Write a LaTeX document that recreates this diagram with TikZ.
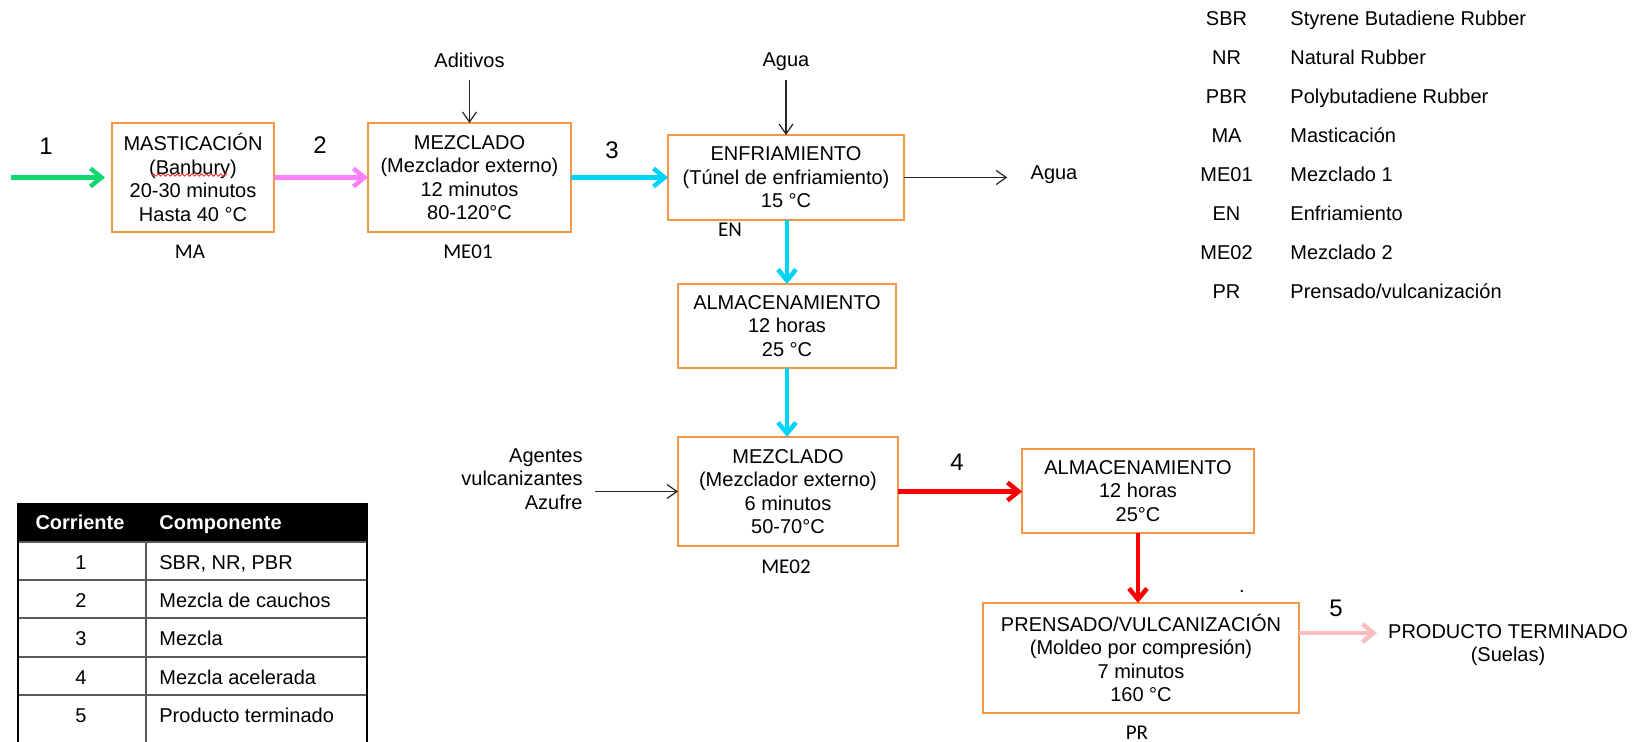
\documentclass[tikz,border=0pt]{standalone}
\usepackage{fontspec}
\setmainfont{Liberation Sans}
\newfontfamily\labfont{Carlito}
\usetikzlibrary{arrows.meta,decorations.pathmorphing}
\definecolor{boxorange}{RGB}{247,150,70}
\definecolor{cgreen}{RGB}{20,214,110}
\definecolor{cpink}{RGB}{255,128,255}
\definecolor{ccyan}{RGB}{0,212,250}
\definecolor{cred}{RGB}{250,0,0}
\definecolor{clpink}{RGB}{250,190,190}
\definecolor{tabline}{RGB}{90,90,90}
\begin{document}
\begin{tikzpicture}[x=0.5pt,y=-0.5pt,
  pbox/.style={draw=boxorange, line width=1pt, inner sep=0pt, outer sep=0pt, align=center,
    font=\fontsize{10}{11.7}\selectfont},
  txt/.style={inner sep=0pt, font=\fontsize{10}{11.7}\selectfont},
  num/.style={inner sep=0pt, anchor=base, font=\fontsize{12}{14}\selectfont},
  lab/.style={inner sep=0pt, anchor=base, font=\labfont\fontsize{10.5}{12}\selectfont},
  flow/.style={line width=2.25pt, -{Straight Barb[length=5.5pt,width=9pt]}},
  blk/.style={line width=0.6pt, draw=black!85, -{Straight Barb[length=5pt,width=7pt]}},
  spell/.style={draw=red!85, line width=0.4pt, decorate,
    decoration={snake, amplitude=0.6pt, segment length=2.4pt}},
  tabtxt/.style={inner sep=0pt, font=\fontsize{10}{12}\selectfont},
]
\useasboundingbox (0,0) rectangle (1637,742);

% process boxes
\node[pbox, minimum width=81pt, minimum height=54.5pt] (MA) at (193,177.5)
  {MASTICACIÓN\\(Banbury)\\20-30 minutos\\Hasta 40 °C};
\node[pbox, minimum width=101.5pt, minimum height=54.5pt] (ME1) at (469.5,177.5)
  {MEZCLADO\\(Mezclador externo)\\12 minutos\\80-120°C};
\node[pbox, minimum width=118pt, minimum height=42.5pt] (EN) at (786,177.5)
  {ENFRIAMIENTO\\(Túnel de enfriamiento)\\15 °C};
\node[pbox, minimum width=109pt, minimum height=42pt] (AL1) at (787,326)
  {ALMACENAMIENTO\\12 horas\\25 °C};
\node[pbox, minimum width=110pt, minimum height=54.5pt] (ME2) at (788,491.5)
  {MEZCLADO\\(Mezclador externo)\\6 minutos\\50-70°C};
\node[pbox, minimum width=116pt, minimum height=42pt] (AL2) at (1138,491)
  {ALMACENAMIENTO\\12 horas\\25°C};
\node[pbox, minimum width=158pt, minimum height=55pt] (PR) at (1141,658)
  {PRENSADO/VULCANIZACIÓN\\(Moldeo por compresión)\\7 minutos\\160 °C};

% spell-check underline under Banbury
\draw[spell] (152,175) -- (227,175);

% equipment labels
\node[lab] (lMA) at (190,259) {MA};
\node[lab] (lME1) at (468,259) {ME01};
\node[lab] (lEN) at (730,237) {EN};
\node[lab] (lME2) at (786,574) {ME02};
\node[lab] (lPR) at (1137,739) {PR};

% stream numbers
\node[num] (n1) at (46,154.6) {1};
\node[num] (n2) at (320,153.6) {2};
\node[num] (n3) at (612,158.6) {3};
\node[num] (n4) at (957,470.6) {4};
\node[num] (n5) at (1336,616.6) {5};

% side inputs / outputs
\node[txt, anchor=base] (adit) at (469.5,68) {Aditivos};
\node[txt, anchor=base] (aguain) at (786,67) {Agua};
\node[txt, anchor=base] (aguaout) at (1054,180) {Agua};
\node[txt, align=right, anchor=east] (agentes) at (583,479) {Agentes\\vulcanizantes\\Azufre};
\node[txt, align=center] (prod) at (1508,645) {PRODUCTO TERMINADO\\(Suelas)};
\node[txt, anchor=base] (dot) at (1242,592) {.};

% main flow
\coordinate (in1) at (11,177.5);
\coordinate (p5) at (1377,633);
\draw[flow, draw=cgreen, shorten >=3.5pt] (in1) -- (MA.west);
\draw[flow, draw=cpink] (MA.east) -- (ME1.west);
\draw[flow, draw=ccyan] (ME1.east) -- (EN.west);
\draw[flow, draw=ccyan] (AL1.north |- EN.south) -- (AL1.north);
\draw[flow, draw=ccyan] (AL1.south) -- (AL1.south |- ME2.north);
\draw[flow, draw=cred] (ME2.east) -- (ME2.east -| AL2.west);
\draw[flow, draw=cred] (AL2.south) -- (AL2.south |- PR.north);
\draw[flow, draw=clpink] (PR.east |- p5) -- (p5);

% auxiliary streams
\draw[blk, shorten <=6pt] (adit.base) -- (ME1.north);
\draw[blk, shorten <=6.5pt] (aguain.base) -- (EN.north);
\draw[blk, shorten >=11.5pt] (EN.east) -- (EN.east -| aguaout.west);
\draw[blk, shorten <=6pt] (ME2.west -| agentes.east) -- (ME2.west);

% abbreviation legend
\foreach \ab/\de/\yy [count=\i] in {SBR/Styrene Butadiene Rubber/25.2,
    NR/Natural Rubber/64.2, PBR/Polybutadiene Rubber/103.2, MA/Masticación/142.2,
    ME01/Mezclado 1/181.2, EN/Enfriamiento/220.2, ME02/Mezclado 2/259.2,
    PR/Prensado\slash vulcanización/298.2} {
  \node[txt, anchor=base] (ab\i) at (1226.5,\yy) {\ab};
  \node[txt, anchor=base west] (de\i) at (1290,\yy) {\de};
}

% stream table
\fill[black] (18,503) rectangle (367,542);
\foreach \yy in {542,580,618,657,695}
  \draw[tabline, line width=0.75pt] (18,\yy) -- (367,\yy);
\draw[black, line width=0.75pt] (18,503) -- (18,742);
\draw[black, line width=0.75pt] (367,503) -- (367,742);
\draw[tabline, line width=0.75pt] (146,542) -- (146,742);
\node[tabtxt, anchor=base, text=white, font=\bfseries\fontsize{10}{12}\selectfont] (hc) at (80,530) {Corriente};
\node[tabtxt, anchor=base west, text=white, font=\bfseries\fontsize{10}{12}\selectfont] (hk) at (159,530) {Componente};
\foreach \n/\c/\yy in {1/{SBR, NR,  PBR}/569, 2/Mezcla de cauchos/607, 3/Mezcla/645,
    4/Mezcla acelerada/684, 5/Producto terminado/722} {
  \node[tabtxt, anchor=base] (tn\n) at (81,\yy) {\n};
  \node[tabtxt, anchor=base west] (tc\n) at (159,\yy) {\c};
}
\end{tikzpicture}
\end{document}
